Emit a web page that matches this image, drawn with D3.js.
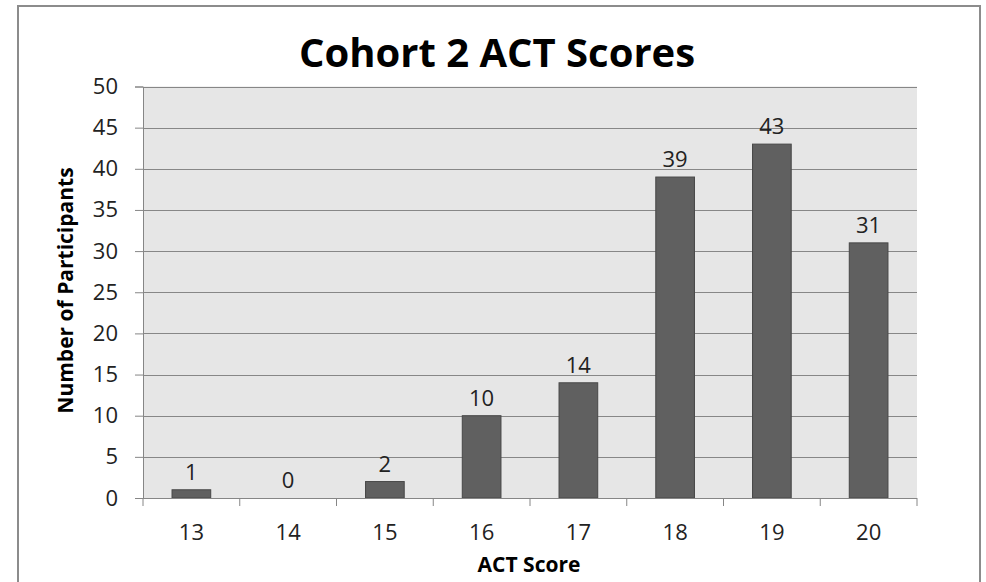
<!DOCTYPE html>
<html lang="en">
<head>
  <meta charset="UTF-8">
  <title>Cohort 2 ACT Scores</title>
  <script src="https://d3js.org/d3.v7.min.js"></script>
  <style>
    body { margin: 0; background: #fff; font-family: "Open Sans", sans-serif; }
    svg { display: block; }
    .tick text { font-family: "Open Sans", sans-serif; fill: #222; }
  </style>
</head>
<body>
  <svg width="986" height="582"></svg>
  <script>
    const scores = ["13", "14", "15", "16", "17", "18", "19", "20"];
    const participants = [1, 0, 2, 10, 14, 39, 43, 31];
    const yTicks = [0, 5, 10, 15, 20, 25, 30, 35, 40, 45, 50];

    const svg = d3.select("svg");
    const plot = { left: 143, top: 86.5, right: 917, bottom: 498 };

    // chart frame
    svg.append("rect")
      .attr("x", 18).attr("y", 6)
      .attr("width", 962).attr("height", 600)
      .attr("fill", "#fff")
      .attr("stroke", "#8c8c8c")
      .attr("stroke-width", 2);

    const x = d3.scaleBand()
      .domain(scores)
      .range([plot.left, plot.right])
      .paddingInner(0.6)
      .paddingOuter(0.3);

    const xCat = d3.scaleBand()
      .domain(scores)
      .range([plot.left, plot.right]);

    const y = d3.scaleLinear()
      .domain([0, 50])
      .range([plot.bottom, plot.top]);

    svg.append("rect")
      .attr("x", plot.left).attr("y", plot.top)
      .attr("width", plot.right - plot.left)
      .attr("height", plot.bottom - plot.top)
      .attr("fill", "#e6e6e6");

    // gridlines
    svg.append("g")
      .selectAll("line")
      .data(yTicks.filter(d => d > 0))
      .join("line")
      .attr("x1", plot.left).attr("x2", plot.right)
      .attr("y1", d => Math.round(y(d)) + 0.5)
      .attr("y2", d => Math.round(y(d)) + 0.5)
      .attr("stroke", "#878787");

    // bars
    svg.append("g")
      .selectAll("rect")
      .data(participants)
      .join("rect")
      .attr("x", (d, i) => x(scores[i]))
      .attr("y", d => y(d))
      .attr("width", x.bandwidth())
      .attr("height", d => y(0) - y(d))
      .attr("fill", "#606060")
      .attr("stroke", "#484848")
      .attr("stroke-width", 1);

    // data labels
    svg.append("g")
      .selectAll("text")
      .data(participants)
      .join("text")
      .attr("x", (d, i) => x(scores[i]) + x.bandwidth() / 2)
      .attr("y", d => y(d) - 10)
      .attr("text-anchor", "middle")
      .attr("font-size", "22px")
      .attr("fill", "#222")
      .text(d => d);

    // y axis
    const yAxis = svg.append("g")
      .attr("transform", `translate(${plot.left},0)`)
      .call(d3.axisLeft(y).tickValues(yTicks).tickSize(8).tickPadding(17));
    yAxis.select(".domain").attr("stroke", "#868686");
    yAxis.selectAll(".tick line").attr("stroke", "#868686");
    yAxis.selectAll(".tick text").attr("font-size", "22px");

    // x axis with ticks on category boundaries
    const xAxis = svg.append("g")
      .attr("transform", `translate(0,${plot.bottom})`)
      .call(d3.axisBottom(x).tickSize(0));
    xAxis.select(".domain").attr("stroke", "#868686").attr("d", `M${plot.left},0.5H${plot.right}`);
    xAxis.selectAll(".tick text")
      .attr("font-size", "22px")
      .attr("y", 42)
      .attr("dy", 0);
    xAxis.selectAll(".boundary")
      .data(scores.concat(["end"]))
      .join("line")
      .attr("class", "boundary")
      .attr("x1", (d, i) => i < scores.length ? xCat(d) : plot.right)
      .attr("x2", (d, i) => i < scores.length ? xCat(d) : plot.right)
      .attr("y1", 0).attr("y2", 8)
      .attr("stroke", "#868686");

    // titles
    svg.append("text")
      .attr("x", 497).attr("y", 67)
      .attr("text-anchor", "middle")
      .attr("font-size", "40px")
      .attr("font-weight", "bold")
      .text("Cohort 2 ACT Scores");

    svg.append("text")
      .attr("x", 529).attr("y", 572)
      .attr("text-anchor", "middle")
      .attr("font-size", "21px")
      .attr("font-weight", "bold")
      .text("ACT Score");

    svg.append("text")
      .attr("transform", "translate(73,290.5) rotate(-90)")
      .attr("text-anchor", "middle")
      .attr("font-size", "21px")
      .attr("font-weight", "bold")
      .text("Number of Participants");
  </script>
</body>
</html>
